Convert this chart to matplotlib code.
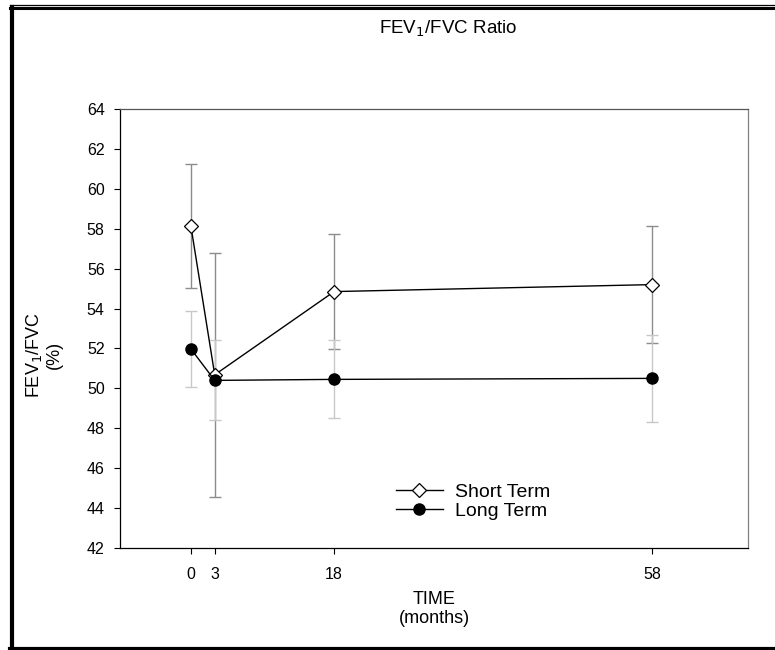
import matplotlib
matplotlib.use('Agg')
import matplotlib.pyplot as plt
from matplotlib.lines import Line2D

plt.rcParams['font.family'] = ['Liberation Sans', 'DejaVu Sans']

# data
months = [0, 3, 18, 58]
short_mean = [58.15, 50.68, 54.85, 55.2]
short_err = [3.1, 6.12, 2.9, 2.95]
long_mean = [51.98, 50.4, 50.45, 50.5]
long_err = [1.9, 2.0, 1.95, 2.17]
y_ticks = [42, 44, 46, 48, 50, 52, 54, 56, 58, 60, 62, 64]

W, H = 775, 650
fig = plt.figure(figsize=(W / 100, H / 100), dpi=100)
ax = fig.add_axes([120 / W, 1 - 548 / H, (748 - 120) / W, (548 - 109) / H])

# error bars first, long term over short term
ax.errorbar(months, short_mean, yerr=short_err, fmt='none', ecolor='#8c8c8c',
            elinewidth=1, capsize=4, capthick=1, zorder=1)
ax.errorbar(months, long_mean, yerr=long_err, fmt='none', ecolor='#c8c8c8',
            elinewidth=1, capsize=4, capthick=1, zorder=2)

ax.plot(months, short_mean, color='black', lw=1, marker='D', ms=7,
        mfc='white', mec='black', mew=0.9, label='Short Term', zorder=3)
ax.plot(months, long_mean, color='black', lw=1, marker='o', ms=8,
        mfc='black', mec='black', label='Long Term', zorder=4)

ax.set_xlim(-8.9, 70)
ax.set_ylim(42, 64)
ax.set_xticks(months)
ax.set_yticks(y_ticks)
ax.tick_params(labelsize=11.5, length=4, width=0.8, direction='out')
ax.tick_params(axis='y', pad=7)
ax.tick_params(axis='x', pad=10)

ax.spines['left'].set_color('black')
ax.spines['bottom'].set_color('black')
ax.spines['top'].set_color('#555555')
ax.spines['right'].set_color('#808080')
for s in ax.spines.values():
    s.set_linewidth(0.9)

leg = ax.legend(loc='center left', bbox_to_anchor=(276 / 628, (548 - 501.5) / 439),
                frameon=False, fontsize=14, handlelength=2.4,
                handletextpad=0.65, labelspacing=0.1, borderpad=0,
                borderaxespad=0)

# title and axis labels
fig.text(448 / W, 1 - 29 / H, 'FEV$_1$/FVC Ratio', ha='center', va='center',
         fontsize=13.5)
fig.text(43 / W, 1 - 355 / H, 'FEV$_1$/FVC\n(%)', ha='center', va='center',
         rotation=90, fontsize=13, linespacing=1.15)
fig.text(434 / W, 1 - 609 / H, 'TIME\n(months)', ha='center', va='center',
         fontsize=13, linespacing=1.15)

# outer frame
fig.add_artist(Line2D([10 / W, 1], [1 - 4.5 / H] * 2, color='black', lw=0.9,
                      transform=fig.transFigure))
fig.add_artist(Line2D([10 / W, 1], [1 - 7.5 / H] * 2, color='black', lw=2.2,
                      transform=fig.transFigure))
fig.add_artist(Line2D([12 / W] * 2, [1 - 6.5 / H, 0], color='black', lw=3,
                      transform=fig.transFigure))
fig.add_artist(Line2D([10 / W, 1], [1.5 / H] * 2, color='black', lw=3,
                      transform=fig.transFigure))

fig.savefig('out.png', dpi=100)
